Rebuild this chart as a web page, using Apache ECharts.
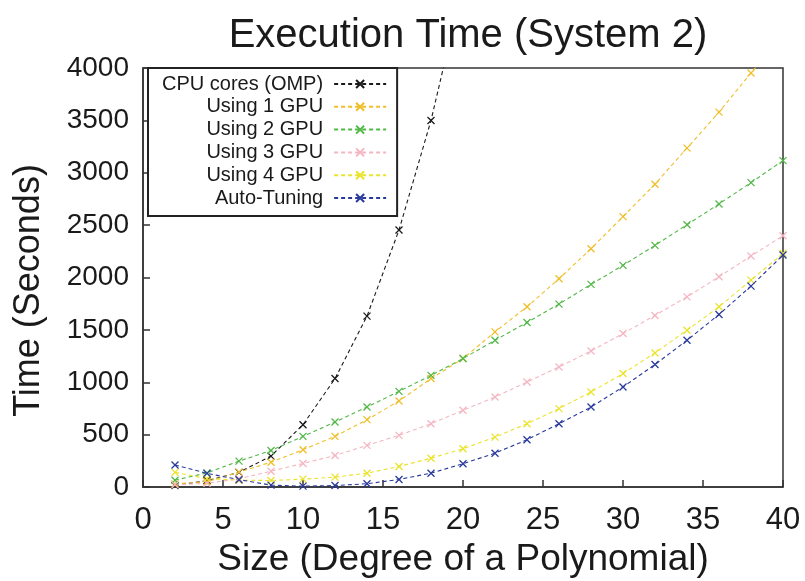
<!DOCTYPE html>
<html>
<head>
<meta charset="utf-8">
<script src="https://cdn.jsdelivr.net/npm/echarts@6/dist/echarts.min.js"></script>
<style>
html,body{margin:0;padding:0;background:#fff;}
#chart{width:805px;height:581px;}
</style>
</head>
<body>
<div id="chart"></div>
<script>
const sizes = [2,4,6,8,10,12,14,16,18,20,22,24,26,28,30,32,34,36,38,40];
const cpuCores = [15,60,140,295,595,1035,1631,2453,3499,4800];
const gpu1 = [30,50,142,237,356,483,643,821,1035,1226,1481,1720,1988,2275,2581,2891,3235,3579,3952,4330];
const gpu2 = [65,135,247,349,483,620,763,913,1066,1226,1401,1571,1746,1934,2116,2307,2504,2702,2906,3116];
const gpu3 = [20,36,78,151,225,301,397,493,604,732,859,1002,1146,1299,1465,1638,1815,2007,2205,2399];
const gpu4 = [140,80,65,62,75,94,132,196,275,365,476,604,748,907,1083,1280,1497,1720,1975,2230];
const autoTuning = [210,130,70,18,8,14,31,72,132,222,323,451,604,763,955,1169,1401,1647,1918,2214];
const seriesNames = ['CPU cores (OMP)','Using 1 GPU','Using 2 GPU','Using 3 GPU','Using 4 GPU','Auto-Tuning'];
const seriesValues = [cpuCores, gpu1, gpu2, gpu3, gpu4, autoTuning];
const seriesColors = ['#1a1a1a','#efbf2a','#52b847','#f4b6c2','#ebe32c','#2a3a9c'];
const xTicks = {min:0, max:40, interval:5};
const yTicks = {min:0, max:4000, interval:500};

const FONT = '"Liberation Sans", Arial, Helvetica, sans-serif';
const X_SYMBOL = 'path://M0,0L10,10M10,0L0,10';

function pairs(vals){
  const out = [];
  for (let i = 0; i < vals.length; i++) out.push([sizes[i], vals[i]]);
  return out;
}

const series = seriesNames.map((name, i) => ({
  name: name,
  type: 'line',
  data: pairs(seriesValues[i]),
  symbol: X_SYMBOL,
  symbolSize: 7,
  showAllSymbol: true,
  clip: true,
  lineStyle: {color: seriesColors[i], width: 1.1, type: [4, 3]},
  itemStyle: {color: seriesColors[i], borderColor: seriesColors[i], borderWidth: 1.3},
  emphasis: {disabled: true},
  animation: false
}));

const chart = echarts.init(document.getElementById('chart'), null, {renderer: 'canvas'});
chart.setOption({
  backgroundColor: '#ffffff',
  animation: false,
  title: {
    text: 'Execution Time (System 2)',
    left: 463, top: 11, textAlign: 'center',
    textStyle: {fontFamily: FONT, fontSize: 40, fontWeight: 'normal', color: '#1a1a1a'}
  },
  grid: {left: 143, right: 22, top: 68, bottom: 94, outerBoundsMode: 'none', containLabel: false,
         show: true, borderColor: '#333', borderWidth: 1.5, backgroundColor: 'transparent'},
  legend: {
    orient: 'vertical',
    left: 148, top: 68,
    align: 'right',
    padding: [6, 10, 8, 14],
    itemWidth: 52, itemHeight: 10, itemGap: 2.8,
    borderColor: '#222', borderWidth: 2,
    backgroundColor: '#fff',
    selectedMode: false,
    textStyle: {fontFamily: FONT, fontSize: 20, lineHeight: 20, color: '#1a1a1a', padding: [0, 6, 0, 0]},
    data: seriesNames
  },
  xAxis: {
    type: 'value', min: xTicks.min, max: xTicks.max, interval: xTicks.interval,
    name: 'Size (Degree of a Polynomial)', nameLocation: 'middle', nameGap: 53,
    nameTextStyle: {fontFamily: FONT, fontSize: 37, color: '#1a1a1a'},
    axisLine: {show: true, lineStyle: {color: '#333', width: 1.5}},
    axisTick: {show: true, inside: true, length: 7, lineStyle: {color: '#333', width: 1.5}},
    axisLabel: {fontFamily: FONT, fontSize: 31, color: '#1a1a1a', margin: 18},
    splitLine: {show: false}
  },
  yAxis: {
    type: 'value', min: yTicks.min, max: yTicks.max, interval: yTicks.interval,
    name: 'Time (Seconds)', nameLocation: 'middle', nameGap: 96, nameRotate: 90,
    nameTextStyle: {fontFamily: FONT, fontSize: 36, color: '#1a1a1a', padding: [0, 26, 0, 0]},
    axisLine: {show: true, lineStyle: {color: '#333', width: 1.5}},
    axisTick: {show: true, inside: true, length: 7, lineStyle: {color: '#333', width: 1.5}},
    axisLabel: {fontFamily: FONT, fontSize: 28, color: '#1a1a1a', margin: 14, formatter: function (v) { return String(v); }},
    splitLine: {show: false}
  },
  series: series
});
</script>
</body>
</html>
